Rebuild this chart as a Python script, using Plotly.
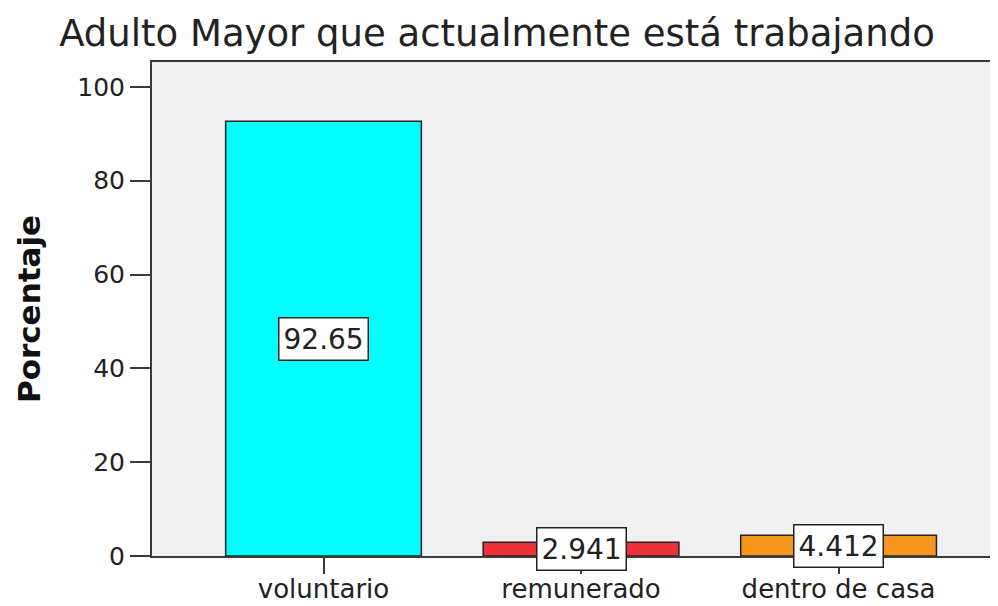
import plotly.graph_objects as go

categorias = ["voluntario", "remunerado", "dentro de casa"]
porcentajes = [92.65, 2.941, 4.412]
etiquetas = ["92.65", "2.941", "4.412"]
colores = ["#00ffff", "#ee3039", "#f7961e"]
y_ticks = [0, 20, 40, 60, 80, 100]

fig = go.Figure()

fig.add_trace(go.Bar(
    x=categorias, y=porcentajes,
    marker=dict(color=colores, line=dict(color="#222222", width=1.5)),
    width=0.76, showlegend=False, hoverinfo="x+y"))

# value boxes in the middle of each bar
for cat, val, txt in zip(categorias, porcentajes, etiquetas):
    fig.add_annotation(x=cat, y=val / 2, text=txt, showarrow=False,
                       xanchor="center", yanchor="middle",
                       font=dict(family="DejaVu Sans", size=28, color="#222222"),
                       bgcolor="white", bordercolor="#222222", borderwidth=1.5, borderpad=4)

# the page has an 8px body margin, so margins are offset by that
fig.update_layout(
    width=998, height=606,
    margin=dict(l=144, r=8, t=54, b=58),
    paper_bgcolor="white", plot_bgcolor="#f0f0f0",
    font=dict(family="DejaVu Sans", color="#222222"),
    title=dict(text="Adulto Mayor que actualmente está trabajando",
               x=0.49, xanchor="center", y=0.958, yanchor="middle",
               font=dict(family="DejaVu Sans", size=37, color="#222222")),
)

fig.update_xaxes(range=[-0.666, 2.619], showline=True, linecolor="#3a3a3a", linewidth=2,
                 mirror=True, ticks="outside", ticklen=16, tickwidth=2, tickcolor="#3a3a3a",
                 tickfont=dict(size=26, color="#222222"), showgrid=False, zeroline=False,
                 ticklabelstandoff=-7, automargin=False)

fig.update_yaxes(range=[0, 105.3], tickvals=y_ticks, showline=True, linecolor="#3a3a3a",
                 linewidth=2, ticks="outside", ticklen=20, tickwidth=2, tickcolor="#3a3a3a",
                 tickfont=dict(size=25, color="#222222"), showgrid=False, zeroline=False,
                 automargin=False,
                 title=dict(text="<b>Porcentaje</b>", standoff=27,
                            font=dict(family="DejaVu Sans", size=31, color="#111111")))

fig.write_html("out.html")
